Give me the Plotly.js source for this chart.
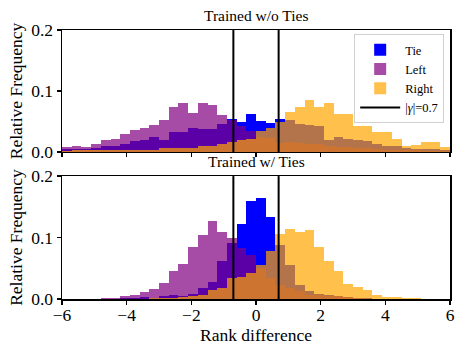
<!DOCTYPE html>
<html>
<head>
<meta charset="utf-8">
<script src="https://cdn.plot.ly/plotly-3.0.1.min.js"></script>
<style>html,body{margin:0;padding:0;background:#fff;}#chart{width:463px;height:356px;}</style>
</head>
<body>
<div id="chart"></div>
<script>
// Bin centers (bin width 0.3, from -6 to 6)
const binCenters = [-5.85,-5.55,-5.25,-4.95,-4.65,-4.35,-4.05,-3.75,-3.45,-3.15,
  -2.85,-2.55,-2.25,-1.95,-1.65,-1.35,-1.05,-0.75,-0.45,-0.15,
  0.15,0.45,0.75,1.05,1.35,1.65,1.95,2.25,2.55,2.85,
  3.15,3.45,3.75,4.05,4.35,4.65,4.95,5.25,5.55,5.85];
const binWidth = 0.3;

// Top panel: Trained w/o Ties
const woTie = [0.005,0.005,0.005,0.006,0.010,0.010,0.013,0.018,0.020,0.025,
  0.020,0.033,0.032,0.040,0.038,0.038,0.046,0.054,0.049,0.062,
  0.051,0.048,0.054,0.053,0.046,0.044,0.042,0.020,0.025,0.022,
  0.020,0.018,0.013,0.010,0.010,0.006,0.005,0.005,0.005,0.004];
const woLeft = [0.009,0.010,0.009,0.013,0.020,0.021,0.030,0.036,0.040,0.044,
  0.052,0.074,0.080,0.064,0.080,0.077,0.061,0.053,0.042,0.035,
  0.025,0.023,0.014,0.016,0.015,0.013,0.013,0.010,0.009,0.008,
  0.007,0.006,0.005,0.004,0.004,0.003,0.003,0.002,0.002,0.002];
const woRight = [0.002,0.003,0.003,0.003,0.003,0.003,0.003,0.003,0.004,0.004,
  0.006,0.007,0.007,0.007,0.010,0.010,0.013,0.016,0.020,0.022,
  0.035,0.040,0.049,0.066,0.074,0.085,0.074,0.080,0.063,0.062,
  0.043,0.043,0.033,0.033,0.021,0.010,0.011,0.016,0.016,0.008];

// Bottom panel: Trained w/ Ties
const wTie = [0,0,0,0,0,0,0.0016,0.0016,0.003,0.002,
  0.005,0.0065,0.005,0.008,0.018,0.028,0.062,0.091,0.122,0.159,
  0.165,0.133,0.088,0.055,0.023,0.013,0.008,0.006,0.005,0.004,
  0.002,0.001,0,0,0,0,0,0,0,0];
const wLeft = [0,0,0,0,0.0016,0.0016,0.0049,0.0065,0.0114,0.0168,
  0.026,0.046,0.057,0.0846,0.104,0.127,0.109,0.0995,0.083,0.0715,
  0.05,0.034,0.022,0.018,0.013,0.0065,0.0065,0.005,0.005,0.0033,
  0.0016,0,0,0,0,0,0,0,0,0];
const wRight = [0,0,0,0,0,0,0,0,0,0.0016,
  0.0016,0.0016,0.003,0.0049,0.0065,0.0146,0.018,0.034,0.035,0.042,
  0.055,0.078,0.106,0.114,0.109,0.112,0.0846,0.0618,0.0455,0.0244,
  0.0195,0.0146,0.0065,0.0033,0.0033,0.0016,0.0016,0,0,0];

const gamma = 0.7;
const yMax = 0.2;
const seriesNames = ['Tie','Left','Right'];
const colors = ['rgb(0,0,255)','rgba(128,0,128,0.7)','rgba(255,165,0,0.7)'];

const FONT = 'Liberation Serif';

function bars(vals, i, xa, ya, show) {
  return {type:'bar', x: binCenters, y: vals, width: binWidth, name: seriesNames[i],
    marker:{color: colors[i], line:{width:0}}, xaxis: xa, yaxis: ya, showlegend: show,
    hoverinfo:'skip'};
}
function vlines(xa, ya, show) {
  return {type:'scatter', mode:'lines', x:[-gamma,-gamma,null,gamma,gamma], y:[0,yMax,null,0,yMax],
    line:{color:'black', width:2}, name:'|<i>γ</i>|=0.7', xaxis: xa, yaxis: ya, showlegend: show,
    hoverinfo:'skip'};
}

const data = [
  bars(woTie,0,'x','y',true), bars(woLeft,1,'x','y',true), bars(woRight,2,'x','y',true), vlines('x','y',true),
  bars(wTie,0,'x2','y2',false), bars(wLeft,1,'x2','y2',false), bars(wRight,2,'x2','y2',false), vlines('x2','y2',false)
];

const axisCommon = {showline:true, linecolor:'black', linewidth:1.5, mirror:true, ticks:'outside',
  ticklen:4, tickwidth:1.2, tickcolor:'black', showgrid:false, zeroline:false,
  tickfont:{family:FONT, size:17.5, color:'black'}};

const layout = {
  width:463, height:356,
  margin:{l:62, r:13, t:30, b:57},
  paper_bgcolor:'white', plot_bgcolor:'white',
  barmode:'overlay', bargap:0,
  font:{family:FONT, color:'black'},
  xaxis: Object.assign({}, axisCommon, {domain:[0,1], range:[-6,6], dtick:2, tick0:-6, showticklabels:false, anchor:'y'}),
  yaxis: Object.assign({}, axisCommon, {domain:[0.5465,1], range:[0,yMax], dtick:0.1, tickformat:'.1f', anchor:'x',
    title:{text:'Relative Frequency', font:{family:FONT, size:17.5}, standoff:4}}),
  xaxis2: Object.assign({}, axisCommon, {domain:[0,1], range:[-6,6], dtick:2, tick0:-6, anchor:'y2',
    ticklabelstandoff:-5,
    title:{text:'Rank difference', font:{family:FONT, size:17.5}, standoff:0}}),
  yaxis2: Object.assign({}, axisCommon, {domain:[0,0.457], range:[0,yMax], dtick:0.1, tickformat:'.1f', anchor:'x2',
    title:{text:'Relative Frequency', font:{family:FONT, size:17.5}, standoff:4}}),
  legend:{x:0.985, xanchor:'right', y:0.985, yanchor:'top', bgcolor:'rgba(255,255,255,0.85)',
    bordercolor:'#d0d0d0', borderwidth:1, font:{family:FONT, size:12.5, color:'black'}, tracegroupgap:0,
    itemwidth:40},
  annotations:[
    {text:'Trained w/o Ties', xref:'paper', yref:'paper', x:0.5, y:1, yanchor:'bottom', xanchor:'center',
      yshift:4, showarrow:false, font:{family:FONT, size:15.5, color:'black'}},
    {text:'Trained w/ Ties', xref:'paper', yref:'paper', x:0.5, y:0.457, yanchor:'bottom', xanchor:'center',
      yshift:4, showarrow:false, font:{family:FONT, size:15.5, color:'black'}}
  ]
};

Plotly.newPlot('chart', data, layout, {displayModeBar:false, staticPlot:true});
</script>
</body>
</html>
